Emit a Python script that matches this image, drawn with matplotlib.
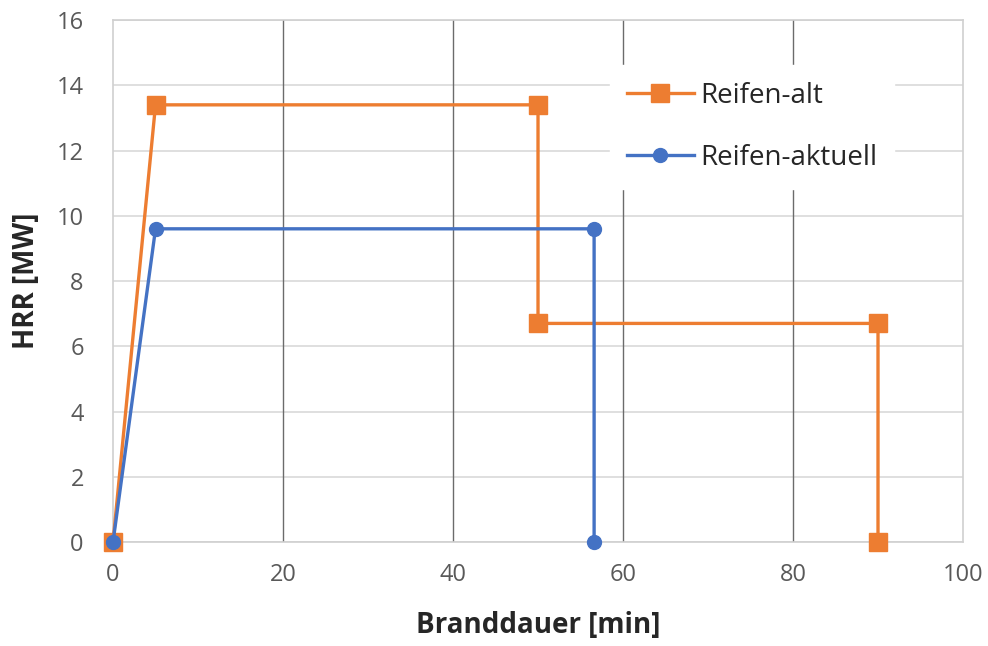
import matplotlib
matplotlib.use('Agg')
import matplotlib.pyplot as plt

# ── Daten ─────────────────────────────────────────────
alt_x = [0, 5, 50, 50, 90, 90]
alt_y = [0, 13.4, 13.4, 6.7, 6.7, 0]
akt_x = [0, 5, 56.6, 56.6]
akt_y = [0, 9.6, 9.6, 0]

ORANGE = '#ED7D31'
BLUE = '#4472C4'
TICK_C = '#595959'

plt.rcParams['font.family'] = ['Open Sans', 'DejaVu Sans']

fig = plt.figure(figsize=(9.88, 6.46), dpi=100, facecolor='white')
ax = fig.add_axes([0.1144, 0.161, 0.8603, 0.808])

ax.plot(alt_x, alt_y, color=ORANGE, linewidth=2.4, marker='s', markersize=13,
        label='Reifen-alt', clip_on=False, zorder=3)
ax.plot(akt_x, akt_y, color=BLUE, linewidth=2.4, marker='o', markersize=10,
        label='Reifen-aktuell', clip_on=False, zorder=4)

ax.set_xlim(0, 100)
ax.set_ylim(0, 16)
ax.set_xticks([0, 20, 40, 60, 80, 100])
ax.set_yticks(range(0, 17, 2))

# Gitter: horizontal hell, vertikal dunkel
ax.yaxis.grid(True, color='#d9d9d9', linewidth=1.2)
for xv in [20, 40, 60, 80]:
    ax.axvline(xv, color='#6b6b6b', linewidth=1.0, zorder=1)
ax.set_axisbelow(True)
for s in ax.spines.values():
    s.set_color('#d0d0d0')
    s.set_linewidth(1.2)

ax.tick_params(length=0, labelsize=17, colors=TICK_C)
ax.tick_params(axis='x', pad=15)
ax.tick_params(axis='y', pad=21)

ax.set_xlabel('Branddauer [min]', fontsize=20, fontweight='bold', color='#262626')
ax.set_ylabel('HRR [MW]', fontsize=20, fontweight='bold', color='#262626')
ax.xaxis.set_label_coords(0.5, -0.132)
ax.yaxis.set_label_coords(-0.085, 0.5)

leg = ax.legend(loc='upper left', bbox_to_anchor=(0.585, 0.913), frameon=True,
                fontsize=20, labelspacing=1.22, handlelength=2.4,
                handletextpad=0.25, borderpad=0.6, borderaxespad=0)
leg.get_frame().set_facecolor('white')
leg.get_frame().set_edgecolor('white')
leg.get_frame().set_alpha(1)
leg.get_frame().set_boxstyle('square', pad=0)
for t in leg.get_texts():
    t.set_color('#262626')

plt.savefig('out.png', dpi=100, facecolor='white')
